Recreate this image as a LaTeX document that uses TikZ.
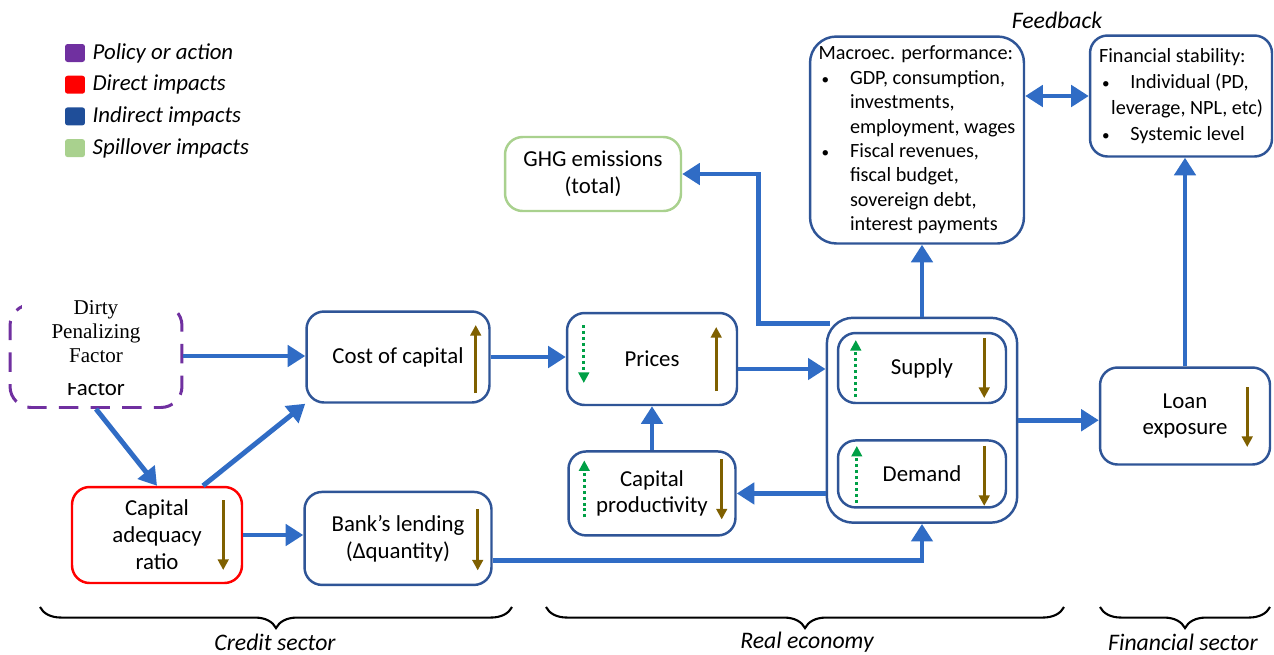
\documentclass[tikz,border=0pt]{standalone}
\usepackage{fontspec}
\setmainfont{Carlito}
\newfontfamily\timesfont{Liberation Serif}
\usetikzlibrary{positioning,fit,backgrounds,arrows.meta,decorations.pathreplacing}

\definecolor{boxblue}{RGB}{47,85,151}
\definecolor{flowblue}{RGB}{48,108,197}
\definecolor{trendbrown}{RGB}{127,96,0}
\definecolor{dotgreen}{RGB}{0,160,70}
\definecolor{policypurple}{RGB}{112,48,160}
\definecolor{spillgreen}{RGB}{169,209,142}
\definecolor{indirectblue}{RGB}{31,78,153}

\newcommand{\bul}{\makebox[1.55em][l]{\hspace{0.15em}\scalebox{0.75}{\textbullet}}}
\newcommand{\ind}{\makebox[1.55em]{}}

\tikzset{
  box/.style={draw=boxblue, line width=1.4pt, rounded corners=10pt, align=center,
    fill=white, font=\fontsize{13}{15.3}\selectfont},
  listbox/.style={box, align=left, rounded corners=15pt, font=\fontsize{11.5}{13.9}\selectfont},
  flow/.style={draw=flowblue, line width=2.8pt, -{Triangle[length=10pt,width=12pt]}},
  dflow/.style={draw=flowblue, line width=2.8pt,
    {Triangle[length=10pt,width=12pt]}-{Triangle[length=10pt,width=12pt]}},
  trend/.style={draw=trendbrown, line width=1.6pt, -{Triangle[length=6pt,width=6pt]}},
  dottrend/.style={draw=dotgreen, line width=1.8pt, dash pattern=on 1.7pt off 1.7pt,
    -{Triangle[length=6pt,width=6pt]}},
  legsq/.style={minimum width=0.4cm, minimum height=0.36cm, inner sep=0pt, rounded corners=1.5pt},
  legtxt/.style={inner sep=0pt, font=\fontsize{13}{15}\selectfont\itshape},
  brace/.style={draw, line width=1.2pt, decorate, decoration={brace, mirror, amplitude=12pt}},
  sector/.style={font=\fontsize{13.5}{15}\selectfont\itshape}
}

\begin{document}
\begin{tikzpicture}[x=0.02cm, y=-0.02cm]
  \useasboundingbox (0,0) rectangle (1274,654);

  % legend
  \node[legsq, fill=policypurple] (leg1) at (75,53) {};
  \node[legsq, fill=red, below=0.26cm of leg1] (leg2) {};
  \node[legsq, fill=indirectblue, below=0.26cm of leg2] (leg3) {};
  \node[legsq, fill=spillgreen, below=0.26cm of leg3] (leg4) {};
  \node[legtxt, right=0.14cm of leg1] (legt1) {Policy or action};
  \node[legtxt, right=0.14cm of leg2] (legt2) {Direct impacts};
  \node[legtxt, right=0.14cm of leg3] (legt3) {Indirect impacts};
  \node[legtxt, right=0.14cm of leg4] (legt4) {Spillover impacts};

  % policy
  \node[draw=policypurple, line width=1.7pt, dash pattern=on 11pt off 7pt, rounded corners=12pt,
    minimum width=3.44cm, minimum height=2.06cm] (dirty) at (96,356) {};
  \node[font=\fontsize{13}{15}\selectfont] (dirtyold) at (96,388) {Factor};
  \node[fill=white, align=center, minimum width=2.96cm, minimum height=2.04cm, inner sep=0pt,
    font=\timesfont\fontsize{12}{13.6}\selectfont] (dirtytxt) at (96,332) {Dirty\\Penalizing\\Factor};

  % credit sector
  \node[box, draw=red, minimum width=3.4cm, minimum height=1.92cm] (car) at (157,535) {Capital\\adequacy\\ratio};
  \node[box, minimum width=3.66cm, minimum height=1.82cm] (cost) at (398,357) {Cost of capital};
  \node[box, minimum width=3.74cm, minimum height=1.86cm, below=1.74cm of cost] (bank) {Bank’s lending\\(Δquantity)};

  % real economy
  \node[box, minimum width=3.4cm, minimum height=1.84cm] (prices) at (652,359) {Prices};
  \node[box, minimum width=3.34cm, minimum height=1.68cm, below=0.88cm of prices] (prod) {Capital\\productivity};
  \node[box, minimum width=3.36cm, minimum height=1.4cm] (supply) at (922,368) {Supply};
  \node[box, minimum width=3.36cm, minimum height=1.34cm, below=0.7cm of supply] (demand) {Demand};
  \begin{scope}[on background layer]
    \node[box, rounded corners=15pt, inner xsep=0.2cm, inner ysep=0.28cm, fit=(supply)(demand)] (outer) {};
  \end{scope}
  \node[box, draw=spillgreen, minimum width=3.52cm, minimum height=1.48cm] (ghg) at (593,174) {GHG emissions\\(total)};
  \node[listbox, minimum width=4.28cm, minimum height=4.14cm] (macro) at (917,140)
    {Macroec. performance:\\
     \bul GDP, consumption,\\
     \ind investments,\\
     \ind employment, wages\\
     \bul Fiscal revenues,\\
     \ind fiscal budget,\\
     \ind sovereign debt,\\
     \ind interest payments};

  % financial sector
  \node[box, minimum width=3.4cm, minimum height=1.94cm] (loan) at (1185,416) {Loan\\exposure};
  \node[listbox, rounded corners=10pt, font=\fontsize{11.5}{14.8}\selectfont, minimum width=3.64cm, minimum height=2.42cm] (fin) at (1181,96)
    {Financial stability:\\
     \bul Individual (PD,\\
     \makebox[0.6em]{}leverage, NPL, etc)\\
     \bul Systemic level};
  \node[font=\fontsize{13.5}{15}\selectfont\itshape] (feedback) at (1057,20) {Feedback};

  % connectors
  \draw[flow] (dirty.east) -- (dirty.east -| cost.west);
  \draw[flow] (dirty.south) -- (car.north);
  \draw[flow] ([xshift=0.92cm]car.north) -- (cost.south west);
  \draw[flow] (car.east) -- (car.east -| bank.west);
  \draw[flow] (cost.east) -- (cost.east -| prices.west);
  \draw[flow] ([yshift=-0.2cm]prices.east) -- ([yshift=-0.2cm]prices.east -| outer.west);
  \draw[flow] ([yshift=-0.44cm]bank.east) -| (outer.south);
  \draw[flow] (outer.west |- prod.east) -- (prod.east);
  \draw[flow] (prod.north) -- (prices.south);
  \draw[flow] ([shift={(4,7)}]outer.north west) -| ([xshift=1.52cm]ghg.east) -- (ghg.east);
  \draw[flow] (outer.north) -- (outer.north |- macro.south);
  \draw[flow] (outer.east) -- (outer.east -| loan.west);
  \draw[flow] (loan.north) -- (loan.north |- fin.south);
  \draw[dflow] (fin.west -| macro.east) -- (fin.west);

  % trends
  \draw[trend] ([shift={(-15,36)}]cost.east) -- ([shift={(-15,-32)}]cost.east);
  \draw[trend] ([shift={(-20,-35)}]car.east) -- ([shift={(-20,35)}]car.east);
  \draw[trend] ([shift={(-15,-29)}]bank.east) -- ([shift={(-15,32)}]bank.east);
  \draw[trend] ([shift={(-22,32)}]prices.east) -- ([shift={(-22,-32)}]prices.east);
  \draw[dottrend] ([shift={(18,-34)}]prices.west) -- ([shift={(18,24)}]prices.west);
  \draw[trend] ([shift={(-15,-34)}]prod.east) -- ([shift={(-15,26)}]prod.east);
  \draw[dottrend] ([shift={(17,24)}]prod.west) -- ([shift={(17,-33)}]prod.west);
  \draw[trend] ([shift={(-23,-30)}]supply.east) -- ([shift={(-23,30)}]supply.east);
  \draw[dottrend] ([shift={(19,29)}]supply.west) -- ([shift={(19,-28)}]supply.west);
  \draw[trend] ([shift={(-23,-28)}]demand.east) -- ([shift={(-23,32)}]demand.east);
  \draw[dottrend] ([shift={(20,29)}]demand.west) -- ([shift={(20,-28)}]demand.west);
  \draw[trend] ([shift={(-24,-29)}]loan.east) -- ([shift={(-24,31)}]loan.east);

  % sectors
  \draw[brace] (40,607) -- (512,607);
  \draw[brace] (546,607) -- (1064,607);
  \draw[brace] (1100,607) -- (1270,607);
  \node[sector] (credit) at (275,642) {Credit sector};
  \node[sector] (real) at (807,642) {Real economy};
  \node[sector] (financial) at (1183,642) {Financial sector};
\end{tikzpicture}
\end{document}
